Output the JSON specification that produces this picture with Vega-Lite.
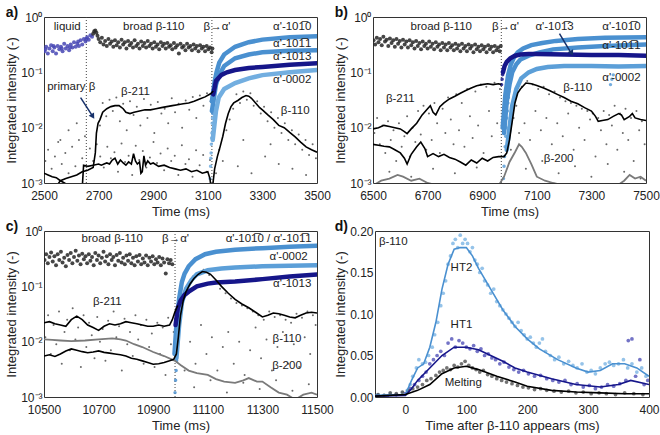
{
"$schema":"https://vega.github.io/schema/vega-lite/v6.json",
"config":{"font":"Liberation Sans","view":{"stroke":"#333","strokeWidth":1},
"axis":{"grid":false,"ticks":false,"domain":false,"labelFlush":false,"labelFontSize":12,"titleFontSize":13,"titleFontWeight":"normal","labelColor":"#222","titleColor":"#222","labelPadding":2,"titlePadding":2},
"axisX":{"labelPadding":7,"titlePadding":4},
"title":{"fontSize":14,"fontWeight":"bold","anchor":"start","frame":"bounds","dy":13,"color":"#111"},
"text":{"fontSize":11.5,"color":"#222"}},
"spacing":0,
"resolve":{"scale":{"color":"independent"}},
"vconcat":[
{"resolve":{"scale":{"color":"independent"}},"hconcat":[
{"width":273,"height":166,"title":{"text":"a)"},
"layer":[
{"data":{"name":"aD"},"mark":{"type":"point","filled":true,"size":4,"opacity":0.8,"clip":true},
"encoding":{"x":{"field":"x","type":"quantitative","scale":{"domain":[2500,3500],"nice":false},"axis":{"values":[2500,2700,2900,3100,3300,3500],"format":"d","title":"Time (ms)"}},
"y":{"field":"y","type":"quantitative","scale":{"type":"log","domain":[0.001,1],"nice":false},"axis":{"values":[0.001,0.01,0.1,1],"labelExpr":"'10' + (datum.value >= 0.99 ? '⁰' : datum.value >= 0.099 ? '⁻¹' : datum.value >= 0.0099 ? '⁻²' : '⁻³')","title":"Integrated intensity (-)"}},"color":{"value":"#444"}}},
{"data":{"values":[{"x":2655,"y":0.001,"y2":1},{"x":3115,"y":0.001,"y2":1}]},"mark":{"type":"rule","strokeDash":[1,2],"color":"#444"},"encoding":{"x":{"field":"x","type":"quantitative"},"y":{"field":"y","type":"quantitative","scale":{"type":"log"}},"y2":{"field":"y2"}}},
{"data":{"name":"aB"},"mark":{"type":"point","filled":true,"size":16,"opacity":0.85,"clip":true},
"encoding":{"x":{"field":"x","type":"quantitative"},"y":{"field":"y","type":"quantitative","scale":{"type":"log"}},"color":{"field":"s","type":"nominal","legend":null,"scale":{"domain":["liquid","broad","a1010","a1011","a1013","a0002"],"range":["#4646b4","#262626","#4a90d0","#4a90d0","#16168a","#72aee0"]}}}},
{"data":{"name":"aP"},"mark":{"type":"point","filled":true,"size":12,"opacity":0.85,"clip":true},
"encoding":{"x":{"field":"x","type":"quantitative"},"y":{"field":"y","type":"quantitative","scale":{"type":"log"}},"color":{"field":"s","type":"nominal","legend":null,"scale":{"domain":["liquid","broad","a1010","a1011","a1013","a0002"],"range":["#4646b4","#262626","#4a90d0","#4a90d0","#16168a","#72aee0"]}}}},
{"data":{"name":"aL"},"transform":[{"filter":"datum.s[0] == 'a'"}],"mark":{"type":"line","strokeWidth":4.5,"clip":true,"strokeCap":"round"},
"encoding":{"x":{"field":"x","type":"quantitative"},"y":{"field":"y","type":"quantitative","scale":{"type":"log"}},"color":{"field":"s","type":"nominal","legend":null,"scale":{"domain":["liquid","broad","a1010","a1011","a1013","a0002"],"range":["#4646b4","#262626","#4a90d0","#4a90d0","#16168a","#72aee0"]}},"order":{"field":"x"}}},
{"data":{"name":"aL"},"transform":[{"filter":"datum.s[0] == 'b'"}],"mark":{"type":"line","strokeWidth":1.6,"clip":true,"color":"#000"},
"encoding":{"x":{"field":"x","type":"quantitative"},"y":{"field":"y","type":"quantitative","scale":{"type":"log"}},"detail":{"field":"s"},"order":{"field":"x"}}},
{"data":{"values":[{"x":2634,"y":0.035,"x2":2675,"y2":0.017}]},"mark":{"type":"rule","color":"#16306a","strokeWidth":1.5},"encoding":{"x":{"field":"x","type":"quantitative"},"y":{"field":"y","type":"quantitative","scale":{"type":"log"}},"x2":{"field":"x2"},"y2":{"field":"y2"}}},
{"data":{"values":[{"x":2677,"y":0.0165}]},"mark":{"type":"point","shape":"triangle","filled":true,"size":40,"angle":148,"color":"#16306a","opacity":1},"encoding":{"x":{"field":"x","type":"quantitative"},"y":{"field":"y","type":"quantitative","scale":{"type":"log"}}}},
{"data":{"name":"aT"},"mark":{"type":"text"},"encoding":{"x":{"field":"x","type":"quantitative"},"y":{"field":"y","type":"quantitative","scale":{"type":"log"}},"text":{"field":"t"}}}
]},
{"width":273,"height":166,"title":{"text":"b)"},
"layer":[
{"data":{"name":"bD"},"mark":{"type":"point","filled":true,"size":4,"opacity":0.8,"clip":true},
"encoding":{"x":{"field":"x","type":"quantitative","scale":{"domain":[6500,7500],"nice":false},"axis":{"values":[6500,6700,6900,7100,7300,7500],"format":"d","title":"Time (ms)"}},
"y":{"field":"y","type":"quantitative","scale":{"type":"log","domain":[0.001,1],"nice":false},"axis":{"values":[0.001,0.01,0.1,1],"labelExpr":"'10' + (datum.value >= 0.99 ? '⁰' : datum.value >= 0.099 ? '⁻¹' : datum.value >= 0.0099 ? '⁻²' : '⁻³')","title":"Integrated intensity (-)"}},"color":{"value":"#444"}}},
{"data":{"values":[{"x":6970,"y":0.001,"y2":1}]},"mark":{"type":"rule","strokeDash":[1,2],"color":"#444"},"encoding":{"x":{"field":"x","type":"quantitative"},"y":{"field":"y","type":"quantitative","scale":{"type":"log"}},"y2":{"field":"y2"}}},
{"data":{"name":"bB"},"mark":{"type":"point","filled":true,"size":16,"opacity":0.85,"clip":true},
"encoding":{"x":{"field":"x","type":"quantitative"},"y":{"field":"y","type":"quantitative","scale":{"type":"log"}},"color":{"field":"s","type":"nominal","legend":null,"scale":{"domain":["broad","a1010","a1011","a1013","a0002"],"range":["#262626","#4a90d0","#4a90d0","#16168a","#5c9fd8"]}}}},
{"data":{"name":"bP"},"mark":{"type":"point","filled":true,"size":12,"opacity":0.85,"clip":true},
"encoding":{"x":{"field":"x","type":"quantitative"},"y":{"field":"y","type":"quantitative","scale":{"type":"log"}},"color":{"field":"s","type":"nominal","legend":null,"scale":{"domain":["broad","a1010","a1011","a1013","a0002"],"range":["#262626","#4a90d0","#4a90d0","#16168a","#5c9fd8"]}}}},
{"data":{"name":"bL"},"transform":[{"filter":"datum.s[0] == 'a'"}],"mark":{"type":"line","strokeWidth":4.5,"clip":true,"strokeCap":"round"},
"encoding":{"x":{"field":"x","type":"quantitative"},"y":{"field":"y","type":"quantitative","scale":{"type":"log"}},"color":{"field":"s","type":"nominal","legend":null,"scale":{"domain":["broad","a1010","a1011","a1013","a0002"],"range":["#262626","#4a90d0","#4a90d0","#16168a","#5c9fd8"]}},"order":{"field":"x"}}},
{"data":{"name":"bL"},"transform":[{"filter":"datum.s == 'b200'"}],"mark":{"type":"line","strokeWidth":1.8,"clip":true,"color":"#7a7a7a"},
"encoding":{"x":{"field":"x","type":"quantitative"},"y":{"field":"y","type":"quantitative","scale":{"type":"log"}},"order":{"field":"x"}}},
{"data":{"name":"bL"},"transform":[{"filter":"datum.s == 'b211' || datum.s == 'b110'"}],"mark":{"type":"line","strokeWidth":1.6,"clip":true,"color":"#000"},
"encoding":{"x":{"field":"x","type":"quantitative"},"y":{"field":"y","type":"quantitative","scale":{"type":"log"}},"detail":{"field":"s"},"order":{"field":"x"}}},
{"data":{"values":[{"x":7183,"y":0.5,"x2":7222,"y2":0.24}]},"mark":{"type":"rule","color":"#16306a","strokeWidth":1.5},"encoding":{"x":{"field":"x","type":"quantitative"},"y":{"field":"y","type":"quantitative","scale":{"type":"log"}},"x2":{"field":"x2"},"y2":{"field":"y2"}}},
{"data":{"values":[{"x":7226,"y":0.23}]},"mark":{"type":"point","shape":"triangle","filled":true,"size":40,"angle":152,"color":"#16306a","opacity":1},"encoding":{"x":{"field":"x","type":"quantitative"},"y":{"field":"y","type":"quantitative","scale":{"type":"log"}}}},
{"data":{"name":"bT"},"mark":{"type":"text"},"encoding":{"x":{"field":"x","type":"quantitative"},"y":{"field":"y","type":"quantitative","scale":{"type":"log"}},"text":{"field":"t"}}}
]}
],"spacing":3},
{"resolve":{"scale":{"color":"independent"}},"hconcat":[
{"width":273,"height":166,"title":{"text":"c)"},
"layer":[
{"data":{"name":"cD"},"mark":{"type":"point","filled":true,"size":4,"opacity":0.8,"clip":true},
"encoding":{"x":{"field":"x","type":"quantitative","scale":{"domain":[10500,11500],"nice":false},"axis":{"values":[10500,10700,10900,11100,11300,11500],"format":"d","title":"Time (ms)"}},
"y":{"field":"y","type":"quantitative","scale":{"type":"log","domain":[0.001,1],"nice":false},"axis":{"values":[0.001,0.01,0.1,1],"labelExpr":"'10' + (datum.value >= 0.99 ? '⁰' : datum.value >= 0.099 ? '⁻¹' : datum.value >= 0.0099 ? '⁻²' : '⁻³')","title":"Integrated intensity (-)"}},"color":{"value":"#444"}}},
{"data":{"values":[{"x":10980,"y":0.001,"y2":1}]},"mark":{"type":"rule","strokeDash":[1,2],"color":"#444"},"encoding":{"x":{"field":"x","type":"quantitative"},"y":{"field":"y","type":"quantitative","scale":{"type":"log"}},"y2":{"field":"y2"}}},
{"data":{"name":"cB"},"mark":{"type":"point","filled":true,"size":16,"opacity":0.85,"clip":true},
"encoding":{"x":{"field":"x","type":"quantitative"},"y":{"field":"y","type":"quantitative","scale":{"type":"log"}},"color":{"field":"s","type":"nominal","legend":null,"scale":{"domain":["broad","a1010","a1013","a0002"],"range":["#262626","#4a90d0","#16168a","#5c9fd8"]}}}},
{"data":{"name":"cP"},"mark":{"type":"point","filled":true,"size":12,"opacity":0.85,"clip":true},
"encoding":{"x":{"field":"x","type":"quantitative"},"y":{"field":"y","type":"quantitative","scale":{"type":"log"}},"color":{"field":"s","type":"nominal","legend":null,"scale":{"domain":["broad","a1010","a1013","a0002"],"range":["#262626","#4a90d0","#16168a","#5c9fd8"]}}}},
{"data":{"name":"cL"},"transform":[{"filter":"datum.s[0] == 'a'"}],"mark":{"type":"line","strokeWidth":4.5,"clip":true,"strokeCap":"round"},
"encoding":{"x":{"field":"x","type":"quantitative"},"y":{"field":"y","type":"quantitative","scale":{"type":"log"}},"color":{"field":"s","type":"nominal","legend":null,"scale":{"domain":["broad","a1010","a1013","a0002"],"range":["#262626","#4a90d0","#16168a","#5c9fd8"]}},"order":{"field":"x"}}},
{"data":{"name":"cL"},"transform":[{"filter":"datum.s == 'b200'"}],"mark":{"type":"line","strokeWidth":1.8,"clip":true,"color":"#7a7a7a"},
"encoding":{"x":{"field":"x","type":"quantitative"},"y":{"field":"y","type":"quantitative","scale":{"type":"log"}},"order":{"field":"x"}}},
{"data":{"name":"cL"},"transform":[{"filter":"datum.s == 'b211' || datum.s == 'b110'"}],"mark":{"type":"line","strokeWidth":1.6,"clip":true,"color":"#000"},
"encoding":{"x":{"field":"x","type":"quantitative"},"y":{"field":"y","type":"quantitative","scale":{"type":"log"}},"detail":{"field":"s"},"order":{"field":"x"}}},
{"data":{"name":"cT"},"mark":{"type":"text"},"encoding":{"x":{"field":"x","type":"quantitative"},"y":{"field":"y","type":"quantitative","scale":{"type":"log"}},"text":{"field":"t"}}}
]},
{"width":274,"height":166,"title":{"text":"d)"},
"layer":[
{"data":{"name":"dP"},"mark":{"type":"point","filled":true,"size":14,"opacity":0.8,"clip":true},
"encoding":{"x":{"field":"x","type":"quantitative","scale":{"domain":[-50,400],"nice":false},"axis":{"values":[0,100,200,300,400],"format":"d","title":"Time after β-110 appears (ms)"}},
"y":{"field":"y","type":"quantitative","scale":{"domain":[0,0.2],"nice":false},"axis":{"values":[0,0.05,0.1,0.15,0.2],"format":".2f","title":"Integrated intensity (-)"}},
"color":{"field":"s","type":"nominal","legend":null,"scale":{"domain":["HT2p","HT1p","Meltp","HT2","HT1","Melting"],"range":["#7ab4e4","#5050b8","#505050","#4a90d0","#16168a","#000000"]}}}},
{"data":{"name":"dL"},"mark":{"type":"line","strokeWidth":1.6,"clip":true},
"encoding":{"x":{"field":"x","type":"quantitative"},"y":{"field":"y","type":"quantitative"},"color":{"field":"s","type":"nominal","legend":null,"scale":{"domain":["HT2p","HT1p","Meltp","HT2","HT1","Melting"],"range":["#7ab4e4","#5050b8","#505050","#4a90d0","#16168a","#000000"]}},"order":{"field":"x"}}},
{"data":{"name":"dT"},"mark":{"type":"text"},"encoding":{"x":{"field":"x","type":"quantitative"},"y":{"field":"y","type":"quantitative"},"text":{"field":"t"}}}
]}
],"spacing":0}
],
"datasets":{
"aT":[{"t":"liquid","x":2585,"y":0.65},{"t":"broad β-110","x":2902,"y":0.65},{"t":"β→α'","x":3134,"y":0.65},{"t":"α'-101\u03050","x":3409,"y":0.65},{"t":"α'-101\u03051","x":3409,"y":0.32},{"t":"α'-1013","x":3409,"y":0.19},{"t":"α'-0002","x":3409,"y":0.073},{"t":"primary β","x":2600,"y":0.054},{"t":"β-211","x":2835,"y":0.045},{"t":"β-110","x":3420,"y":0.02}],
"bT":[{"t":"broad β-110","x":6750,"y":0.65},{"t":"β→α'","x":6985,"y":0.65},{"t":"α'-101\u03053","x":7165,"y":0.65},{"t":"α'-101\u03050","x":7410,"y":0.65},{"t":"α'-101\u03051","x":7410,"y":0.3},{"t":"α'-0002","x":7410,"y":0.078},{"t":"β-211","x":6600,"y":0.033},{"t":"β-110","x":7250,"y":0.052},{"t":"β-200","x":7180,"y":0.0027}],
"cT":[{"t":"broad β-110","x":10750,"y":0.71},{"t":"β→α'","x":10982,"y":0.71},{"t":"α'-101\u03050 / α'-101\u03051","x":11323,"y":0.71},{"t":"α'-0002","x":11396,"y":0.34},{"t":"α'-1013","x":11409,"y":0.11},{"t":"β-211","x":10732,"y":0.052},{"t":"β-110","x":11390,"y":0.011},{"t":"β-200","x":11390,"y":0.0036}],
"dT":[{"t":"β-110","x":-20,"y":0.1865},{"t":"HT2","x":92,"y":0.156},{"t":"HT1","x":92,"y":0.087},{"t":"Melting","x":95,"y":0.0165}],
"aB":[{"s":"liquid","x":2502,"y":0.24},{"s":"liquid","x":2508,"y":0.29},{"s":"liquid","x":2514,"y":0.22},{"s":"liquid","x":2520,"y":0.27},{"s":"liquid","x":2526,"y":0.31},{"s":"liquid","x":2532,"y":0.24},{"s":"liquid","x":2538,"y":0.28},{"s":"liquid","x":2544,"y":0.22},{"s":"liquid","x":2550,"y":0.3},{"s":"liquid","x":2556,"y":0.26},{"s":"liquid","x":2562,"y":0.29},{"s":"liquid","x":2568,"y":0.24},{"s":"liquid","x":2574,"y":0.33},{"s":"liquid","x":2580,"y":0.27},{"s":"liquid","x":2586,"y":0.3},{"s":"liquid","x":2592,"y":0.25},{"s":"liquid","x":2598,"y":0.32},{"s":"liquid","x":2604,"y":0.28},{"s":"liquid","x":2610,"y":0.35},{"s":"liquid","x":2616,"y":0.29},{"s":"liquid","x":2622,"y":0.33},{"s":"liquid","x":2628,"y":0.3},{"s":"liquid","x":2634,"y":0.38},{"s":"liquid","x":2640,"y":0.32},{"s":"liquid","x":2646,"y":0.4},{"s":"liquid","x":2652,"y":0.36},{"s":"liquid","x":2658,"y":0.43},{"s":"liquid","x":2664,"y":0.39},{"s":"liquid","x":2670,"y":0.47},{"s":"liquid","x":2676,"y":0.44},{"s":"liquid","x":2505,"y":0.26},{"s":"liquid","x":2535,"y":0.3},{"s":"liquid","x":2565,"y":0.27},{"s":"liquid","x":2595,"y":0.28},{"s":"liquid","x":2625,"y":0.36},{"s":"liquid","x":2655,"y":0.4},
{"s":"broad","x":2680,"y":0.5},{"s":"broad","x":2684,"y":0.55},{"s":"broad","x":2688,"y":0.57},{"s":"broad","x":2692,"y":0.52},{"s":"broad","x":2696,"y":0.46},{"s":"broad","x":2700,"y":0.4},{"s":"broad","x":2706,"y":0.35},{"s":"broad","x":2712,"y":0.42},{"s":"broad","x":2718,"y":0.32},{"s":"broad","x":2724,"y":0.37},{"s":"broad","x":2730,"y":0.3},{"s":"broad","x":2736,"y":0.4},{"s":"broad","x":2742,"y":0.33},{"s":"broad","x":2748,"y":0.36},{"s":"broad","x":2754,"y":0.29},{"s":"broad","x":2760,"y":0.38},{"s":"broad","x":2766,"y":0.31},{"s":"broad","x":2772,"y":0.35},{"s":"broad","x":2778,"y":0.28},{"s":"broad","x":2784,"y":0.39},{"s":"broad","x":2790,"y":0.32},{"s":"broad","x":2796,"y":0.35},{"s":"broad","x":2802,"y":0.27},{"s":"broad","x":2808,"y":0.37},{"s":"broad","x":2814,"y":0.31},{"s":"broad","x":2820,"y":0.34},{"s":"broad","x":2826,"y":0.28},{"s":"broad","x":2832,"y":0.38},{"s":"broad","x":2838,"y":0.3},{"s":"broad","x":2844,"y":0.33},{"s":"broad","x":2850,"y":0.27},{"s":"broad","x":2856,"y":0.36},{"s":"broad","x":2862,"y":0.3},{"s":"broad","x":2868,"y":0.34},{"s":"broad","x":2874,"y":0.28},{"s":"broad","x":2880,"y":0.37},{"s":"broad","x":2886,"y":0.3},{"s":"broad","x":2892,"y":0.33},{"s":"broad","x":2898,"y":0.27},{"s":"broad","x":2904,"y":0.35},{"s":"broad","x":2910,"y":0.29},{"s":"broad","x":2916,"y":0.32},{"s":"broad","x":2922,"y":0.26},{"s":"broad","x":2928,"y":0.35},{"s":"broad","x":2934,"y":0.3},{"s":"broad","x":2940,"y":0.33},{"s":"broad","x":2946,"y":0.27},{"s":"broad","x":2952,"y":0.34},{"s":"broad","x":2958,"y":0.29},{"s":"broad","x":2964,"y":0.31},{"s":"broad","x":2970,"y":0.26},{"s":"broad","x":2976,"y":0.34},{"s":"broad","x":2982,"y":0.28},{"s":"broad","x":2988,"y":0.31},{"s":"broad","x":2994,"y":0.22},{"s":"broad","x":3000,"y":0.33},{"s":"broad","x":3006,"y":0.28},{"s":"broad","x":3012,"y":0.3},{"s":"broad","x":3018,"y":0.25},{"s":"broad","x":3024,"y":0.33},{"s":"broad","x":3030,"y":0.28},{"s":"broad","x":3036,"y":0.3},{"s":"broad","x":3042,"y":0.25},{"s":"broad","x":3048,"y":0.32},{"s":"broad","x":3054,"y":0.27},{"s":"broad","x":3060,"y":0.3},{"s":"broad","x":3066,"y":0.24},{"s":"broad","x":3072,"y":0.31},{"s":"broad","x":3078,"y":0.27},{"s":"broad","x":3084,"y":0.29},{"s":"broad","x":3090,"y":0.24},{"s":"broad","x":3096,"y":0.3},{"s":"broad","x":3102,"y":0.26},{"s":"broad","x":3108,"y":0.28},{"s":"broad","x":3114,"y":0.23},{"s":"broad","x":3117,"y":0.27}],
"aP":[{"s":"a0002","x":3108,"y":0.0012},{"s":"a0002","x":3110,"y":0.002},{"s":"a0002","x":3111,"y":0.0028},{"s":"a0002","x":3112,"y":0.0035},{"s":"a0002","x":3113,"y":0.005},{"s":"a0002","x":3114,"y":0.0065},{"s":"a0002","x":3115,"y":0.008},{"s":"a0002","x":3116,"y":0.012},{"s":"a0002","x":3117,"y":0.015},{"s":"a1011","x":3118,"y":0.018},{"s":"a1011","x":3119,"y":0.022},{"s":"a1011","x":3120,"y":0.025},{"s":"a1011","x":3122,"y":0.03},{"s":"a1011","x":3124,"y":0.04},{"s":"a0002","x":3121,"y":0.01},{"s":"a0002","x":3125,"y":0.016},{"s":"a0002","x":3128,"y":0.022}],
"aL":[{"s":"a1010","x":3115,"y":0.03},{"s":"a1010","x":3125,"y":0.068},{"s":"a1010","x":3132,"y":0.1},{"s":"a1010","x":3142,"y":0.15},{"s":"a1010","x":3160,"y":0.21},{"s":"a1010","x":3200,"y":0.29},{"s":"a1010","x":3250,"y":0.35},{"s":"a1010","x":3300,"y":0.39},{"s":"a1010","x":3400,"y":0.43},{"s":"a1010","x":3500,"y":0.45},
{"s":"a1011","x":3115,"y":0.02},{"s":"a1011","x":3130,"y":0.06},{"s":"a1011","x":3142,"y":0.09},{"s":"a1011","x":3160,"y":0.13},{"s":"a1011","x":3200,"y":0.18},{"s":"a1011","x":3250,"y":0.21},{"s":"a1011","x":3300,"y":0.23},{"s":"a1011","x":3400,"y":0.245},{"s":"a1011","x":3500,"y":0.25},
{"s":"a0002","x":3118,"y":0.006},{"s":"a0002","x":3130,"y":0.02},{"s":"a0002","x":3140,"y":0.035},{"s":"a0002","x":3160,"y":0.05},{"s":"a0002","x":3200,"y":0.064},{"s":"a0002","x":3250,"y":0.078},{"s":"a0002","x":3300,"y":0.089},{"s":"a0002","x":3400,"y":0.1},{"s":"a0002","x":3500,"y":0.11},
{"s":"a1013","x":3120,"y":0.04},{"s":"a1013","x":3130,"y":0.07},{"s":"a1013","x":3150,"y":0.09},{"s":"a1013","x":3170,"y":0.1},{"s":"a1013","x":3200,"y":0.11},{"s":"a1013","x":3250,"y":0.12},{"s":"a1013","x":3300,"y":0.125},{"s":"a1013","x":3400,"y":0.137},{"s":"a1013","x":3500,"y":0.146},
{"s":"b110","x":2500,"y":0.0015},{"s":"b110","x":2515,"y":0.0014},{"s":"b110","x":2530,"y":0.0013},{"s":"b110","x":2545,"y":0.00125},{"s":"b110","x":2560,"y":0.0011},{"s":"b110","x":2575,"y":0.001},{"s":"b110","x":2590,"y":0.0009},{"s":"b110","x":2615,"y":0.0008},{"s":"b110","x":2640,"y":0.0008},{"s":"b110","x":2645,"y":0.0021},{"s":"b110","x":2660,"y":0.002},{"s":"b110","x":2680,"y":0.0021},{"s":"b110","x":2700,"y":0.0022},{"s":"b110","x":2710,"y":0.0021},{"s":"b110","x":2720,"y":0.0022},{"s":"b110","x":2730,"y":0.0023},{"s":"b110","x":2740,"y":0.0022},{"s":"b110","x":2750,"y":0.0026},{"s":"b110","x":2760,"y":0.0028},{"s":"b110","x":2770,"y":0.0022},{"s":"b110","x":2780,"y":0.0026},{"s":"b110","x":2790,"y":0.0023},{"s":"b110","x":2800,"y":0.0021},{"s":"b110","x":2810,"y":0.0024},{"s":"b110","x":2820,"y":0.0022},{"s":"b110","x":2828,"y":0.0034},{"s":"b110","x":2835,"y":0.0025},{"s":"b110","x":2842,"y":0.0022},{"s":"b110","x":2850,"y":0.0024},{"s":"b110","x":2855,"y":0.0015},{"s":"b110","x":2860,"y":0.0016},{"s":"b110","x":2866,"y":0.0031},{"s":"b110","x":2872,"y":0.0021},{"s":"b110","x":2880,"y":0.0025},{"s":"b110","x":2890,"y":0.0022},{"s":"b110","x":2900,"y":0.0023},{"s":"b110","x":2920,"y":0.002},{"s":"b110","x":2940,"y":0.0021},{"s":"b110","x":2960,"y":0.0019},{"s":"b110","x":2980,"y":0.0018},{"s":"b110","x":3000,"y":0.0017},{"s":"b110","x":3020,"y":0.0018},{"s":"b110","x":3040,"y":0.0016},{"s":"b110","x":3060,"y":0.0017},{"s":"b110","x":3080,"y":0.0015},{"s":"b110","x":3100,"y":0.0016},{"s":"b110","x":3108,"y":0.0012},{"s":"b110","x":3112,"y":0.0008},{"s":"b110","x":3118,"y":0.0009},{"s":"b110","x":3125,"y":0.0018},{"s":"b110","x":3135,"y":0.003},{"s":"b110","x":3145,"y":0.0045},{"s":"b110","x":3155,"y":0.007},{"s":"b110","x":3165,"y":0.012},{"s":"b110","x":3175,"y":0.018},{"s":"b110","x":3185,"y":0.024},{"s":"b110","x":3195,"y":0.028},{"s":"b110","x":3210,"y":0.031},{"s":"b110","x":3225,"y":0.035},{"s":"b110","x":3240,"y":0.038},{"s":"b110","x":3250,"y":0.037},{"s":"b110","x":3260,"y":0.034},{"s":"b110","x":3275,"y":0.028},{"s":"b110","x":3290,"y":0.023},{"s":"b110","x":3300,"y":0.021},{"s":"b110","x":3320,"y":0.017},{"s":"b110","x":3340,"y":0.014},{"s":"b110","x":3360,"y":0.011},{"s":"b110","x":3380,"y":0.01},{"s":"b110","x":3400,"y":0.0082},{"s":"b110","x":3420,"y":0.0068},{"s":"b110","x":3440,"y":0.0055},{"s":"b110","x":3460,"y":0.0045},{"s":"b110","x":3480,"y":0.004},{"s":"b110","x":3500,"y":0.0036},
{"s":"b211","x":2540,"y":0.0008},{"s":"b211","x":2560,"y":0.0011},{"s":"b211","x":2580,"y":0.0012},{"s":"b211","x":2600,"y":0.0013},{"s":"b211","x":2620,"y":0.0014},{"s":"b211","x":2640,"y":0.0016},{"s":"b211","x":2660,"y":0.0017},{"s":"b211","x":2680,"y":0.0019},{"s":"b211","x":2688,"y":0.0035},{"s":"b211","x":2692,"y":0.008},{"s":"b211","x":2698,"y":0.012},{"s":"b211","x":2705,"y":0.014},{"s":"b211","x":2715,"y":0.019},{"s":"b211","x":2730,"y":0.022},{"s":"b211","x":2745,"y":0.024},{"s":"b211","x":2760,"y":0.025},{"s":"b211","x":2775,"y":0.025},{"s":"b211","x":2790,"y":0.022},{"s":"b211","x":2800,"y":0.019},{"s":"b211","x":2815,"y":0.018},{"s":"b211","x":2830,"y":0.019},{"s":"b211","x":2850,"y":0.02},{"s":"b211","x":2870,"y":0.021},{"s":"b211","x":2890,"y":0.021},{"s":"b211","x":2910,"y":0.022},{"s":"b211","x":2930,"y":0.023},{"s":"b211","x":2950,"y":0.024},{"s":"b211","x":2970,"y":0.025},{"s":"b211","x":2990,"y":0.026},{"s":"b211","x":3010,"y":0.027},{"s":"b211","x":3030,"y":0.028},{"s":"b211","x":3050,"y":0.03},{"s":"b211","x":3070,"y":0.033},{"s":"b211","x":3090,"y":0.036},{"s":"b211","x":3110,"y":0.041},{"s":"b211","x":3120,"y":0.046}],
"aD":[{"x":2505,"y":0.0025},{"x":2515,"y":0.004},{"x":2528,"y":0.0018},{"x":2540,"y":0.003},{"x":2552,"y":0.0055},{"x":2565,"y":0.0022},{"x":2578,"y":0.0035},{"x":2590,"y":0.0015},{"x":2603,"y":0.0045},{"x":2615,"y":0.002},{"x":2628,"y":0.006},{"x":2640,"y":0.0028},{"x":2655,"y":0.0017},{"x":2668,"y":0.0042},{"x":2680,"y":0.0025},{"x":2693,"y":0.005},{"x":2706,"y":0.003},{"x":2719,"y":0.0019},{"x":2732,"y":0.0045},{"x":2745,"y":0.0028},{"x":2758,"y":0.0036},{"x":2771,"y":0.0016},{"x":2784,"y":0.0052},{"x":2797,"y":0.0024},{"x":2810,"y":0.0031},{"x":2823,"y":0.0014},{"x":2836,"y":0.0047},{"x":2849,"y":0.0026},{"x":2862,"y":0.0038},{"x":2875,"y":0.0019},{"x":2888,"y":0.0029},{"x":2901,"y":0.0055},{"x":2914,"y":0.0023},{"x":2927,"y":0.0034},{"x":2940,"y":0.0017},{"x":2953,"y":0.0042},{"x":2966,"y":0.0025},{"x":2979,"y":0.0031},{"x":2992,"y":0.0014},{"x":3005,"y":0.0048},{"x":3018,"y":0.0022},{"x":3031,"y":0.0027},{"x":3044,"y":0.0013},{"x":3057,"y":0.0039},{"x":3070,"y":0.0021},{"x":3083,"y":0.0032},{"x":3096,"y":0.0016},{"x":3108,"y":0.0026},
{"x":2560,"y":0.006},{"x":2590,"y":0.009},{"x":2620,"y":0.012},{"x":2650,"y":0.007},{"x":2705,"y":0.011},{"x":2715,"y":0.028},{"x":2728,"y":0.016},{"x":2740,"y":0.032},{"x":2752,"y":0.02},{"x":2765,"y":0.035},{"x":2778,"y":0.013},{"x":2790,"y":0.027},{"x":2803,"y":0.009},{"x":2815,"y":0.03},{"x":2828,"y":0.017},{"x":2840,"y":0.024},{"x":2853,"y":0.011},{"x":2866,"y":0.033},{"x":2879,"y":0.015},{"x":2891,"y":0.026},{"x":2904,"y":0.008},{"x":2917,"y":0.029},{"x":2930,"y":0.018},{"x":2942,"y":0.022},{"x":2955,"y":0.012},{"x":2968,"y":0.034},{"x":2980,"y":0.019},{"x":2993,"y":0.027},{"x":3006,"y":0.01},{"x":3019,"y":0.031},{"x":3032,"y":0.021},{"x":3045,"y":0.036},{"x":3058,"y":0.015},{"x":3071,"y":0.038},{"x":3084,"y":0.025},{"x":3097,"y":0.042},{"x":3110,"y":0.03},
{"x":3130,"y":0.0015},{"x":3142,"y":0.004},{"x":3155,"y":0.0025},{"x":3168,"y":0.009},{"x":3180,"y":0.014},{"x":3193,"y":0.022},{"x":3205,"y":0.04},{"x":3218,"y":0.028},{"x":3230,"y":0.045},{"x":3243,"y":0.032},{"x":3256,"y":0.042},{"x":3268,"y":0.025},{"x":3281,"y":0.03},{"x":3294,"y":0.018},{"x":3306,"y":0.024},{"x":3319,"y":0.013},{"x":3332,"y":0.019},{"x":3344,"y":0.01},{"x":3357,"y":0.015},{"x":3370,"y":0.008},{"x":3382,"y":0.012},{"x":3395,"y":0.006},{"x":3408,"y":0.009},{"x":3420,"y":0.005},{"x":3433,"y":0.0075},{"x":3446,"y":0.004},{"x":3458,"y":0.006},{"x":3471,"y":0.0032},{"x":3484,"y":0.005},{"x":3496,"y":0.0028},{"x":3210,"y":0.002},{"x":3260,"y":0.0015},{"x":3310,"y":0.003},{"x":3360,"y":0.0022},{"x":3410,"y":0.0018},{"x":3460,"y":0.0014},{"x":3230,"y":0.006},{"x":3330,"y":0.005}],
"bB":[{"s":"broad","x":6502,"y":0.38},{"s":"broad","x":6508,"y":0.32},{"s":"broad","x":6514,"y":0.42},{"s":"broad","x":6520,"y":0.35},{"s":"broad","x":6526,"y":0.4},{"s":"broad","x":6532,"y":0.31},{"s":"broad","x":6538,"y":0.44},{"s":"broad","x":6544,"y":0.36},{"s":"broad","x":6550,"y":0.39},{"s":"broad","x":6556,"y":0.3},{"s":"broad","x":6562,"y":0.41},{"s":"broad","x":6568,"y":0.34},{"s":"broad","x":6574,"y":0.38},{"s":"broad","x":6580,"y":0.29},{"s":"broad","x":6586,"y":0.4},{"s":"broad","x":6592,"y":0.33},{"s":"broad","x":6598,"y":0.37},{"s":"broad","x":6604,"y":0.28},{"s":"broad","x":6610,"y":0.39},{"s":"broad","x":6616,"y":0.32},{"s":"broad","x":6622,"y":0.36},{"s":"broad","x":6628,"y":0.28},{"s":"broad","x":6634,"y":0.38},{"s":"broad","x":6640,"y":0.31},{"s":"broad","x":6646,"y":0.35},{"s":"broad","x":6652,"y":0.27},{"s":"broad","x":6658,"y":0.37},{"s":"broad","x":6664,"y":0.3},{"s":"broad","x":6670,"y":0.34},{"s":"broad","x":6676,"y":0.26},{"s":"broad","x":6682,"y":0.36},{"s":"broad","x":6688,"y":0.3},{"s":"broad","x":6694,"y":0.33},{"s":"broad","x":6700,"y":0.27},{"s":"broad","x":6706,"y":0.36},{"s":"broad","x":6712,"y":0.29},{"s":"broad","x":6718,"y":0.33},{"s":"broad","x":6724,"y":0.26},{"s":"broad","x":6730,"y":0.35},{"s":"broad","x":6736,"y":0.29},{"s":"broad","x":6742,"y":0.32},{"s":"broad","x":6748,"y":0.25},{"s":"broad","x":6754,"y":0.34},{"s":"broad","x":6760,"y":0.28},{"s":"broad","x":6766,"y":0.32},{"s":"broad","x":6772,"y":0.25},{"s":"broad","x":6778,"y":0.34},{"s":"broad","x":6784,"y":0.28},{"s":"broad","x":6790,"y":0.31},{"s":"broad","x":6796,"y":0.25},{"s":"broad","x":6802,"y":0.33},{"s":"broad","x":6808,"y":0.27},{"s":"broad","x":6814,"y":0.31},{"s":"broad","x":6820,"y":0.24},{"s":"broad","x":6826,"y":0.33},{"s":"broad","x":6832,"y":0.27},{"s":"broad","x":6838,"y":0.3},{"s":"broad","x":6844,"y":0.24},{"s":"broad","x":6850,"y":0.32},{"s":"broad","x":6856,"y":0.27},{"s":"broad","x":6862,"y":0.3},{"s":"broad","x":6868,"y":0.23},{"s":"broad","x":6874,"y":0.32},{"s":"broad","x":6880,"y":0.26},{"s":"broad","x":6886,"y":0.29},{"s":"broad","x":6892,"y":0.24},{"s":"broad","x":6898,"y":0.31},{"s":"broad","x":6904,"y":0.26},{"s":"broad","x":6910,"y":0.29},{"s":"broad","x":6916,"y":0.23},{"s":"broad","x":6922,"y":0.31},{"s":"broad","x":6928,"y":0.26},{"s":"broad","x":6934,"y":0.29},{"s":"broad","x":6940,"y":0.23},{"s":"broad","x":6946,"y":0.3},{"s":"broad","x":6952,"y":0.25},{"s":"broad","x":6958,"y":0.28},{"s":"broad","x":6964,"y":0.24},{"s":"broad","x":6968,"y":0.3}],
"bP":[{"s":"a1013","x":6971,"y":0.06},{"s":"a1013","x":6973,"y":0.075},{"s":"a1013","x":6975,"y":0.09},{"s":"a0002","x":6978,"y":0.0012},{"s":"a0002","x":6980,"y":0.002},{"s":"a0002","x":6982,"y":0.003},{"s":"a0002","x":6984,"y":0.0045},{"s":"a0002","x":6986,"y":0.007},{"s":"a0002","x":6988,"y":0.01},{"s":"a0002","x":6990,"y":0.015},{"s":"a0002","x":6992,"y":0.02},{"s":"a1011","x":6994,"y":0.028},{"s":"a1011","x":6996,"y":0.035},{"s":"a1011","x":6998,"y":0.045},{"s":"a0002","x":7370,"y":0.06},{"s":"a0002","x":7375,"y":0.075},{"s":"a0002","x":7380,"y":0.09}],
"bL":[{"s":"a1010","x":6975,"y":0.01},{"s":"a1010","x":6985,"y":0.04},{"s":"a1010","x":6995,"y":0.09},{"s":"a1010","x":7005,"y":0.14},{"s":"a1010","x":7015,"y":0.18},{"s":"a1010","x":7030,"y":0.23},{"s":"a1010","x":7050,"y":0.27},{"s":"a1010","x":7080,"y":0.31},{"s":"a1010","x":7120,"y":0.34},{"s":"a1010","x":7170,"y":0.37},{"s":"a1010","x":7250,"y":0.4},{"s":"a1010","x":7350,"y":0.42},{"s":"a1010","x":7500,"y":0.43},
{"s":"a1011","x":6980,"y":0.008},{"s":"a1011","x":6990,"y":0.03},{"s":"a1011","x":7000,"y":0.06},{"s":"a1011","x":7010,"y":0.1},{"s":"a1011","x":7025,"y":0.14},{"s":"a1011","x":7040,"y":0.17},{"s":"a1011","x":7070,"y":0.2},{"s":"a1011","x":7110,"y":0.23},{"s":"a1011","x":7160,"y":0.26},{"s":"a1011","x":7250,"y":0.28},{"s":"a1011","x":7350,"y":0.3},{"s":"a1011","x":7500,"y":0.32},
{"s":"a0002","x":6990,"y":0.004},{"s":"a0002","x":7000,"y":0.01},{"s":"a0002","x":7010,"y":0.025},{"s":"a0002","x":7025,"y":0.05},{"s":"a0002","x":7043,"y":0.078},{"s":"a0002","x":7070,"y":0.1},{"s":"a0002","x":7100,"y":0.115},{"s":"a0002","x":7140,"y":0.125},{"s":"a0002","x":7200,"y":0.13},{"s":"a0002","x":7300,"y":0.13},{"s":"a0002","x":7400,"y":0.128},{"s":"a0002","x":7500,"y":0.13},
{"s":"a1013","x":6976,"y":0.1},{"s":"a1013","x":6982,"y":0.13},{"s":"a1013","x":6990,"y":0.155},{"s":"a1013","x":7003,"y":0.18},{"s":"a1013","x":7020,"y":0.2},{"s":"a1013","x":7040,"y":0.21},{"s":"a1013","x":7070,"y":0.215},{"s":"a1013","x":7100,"y":0.215},{"s":"a1013","x":7200,"y":0.21},{"s":"a1013","x":7300,"y":0.205},{"s":"a1013","x":7400,"y":0.205},{"s":"a1013","x":7500,"y":0.2},
{"s":"b211","x":6500,"y":0.0095},{"s":"b211","x":6520,"y":0.01},{"s":"b211","x":6540,"y":0.011},{"s":"b211","x":6560,"y":0.0105},{"s":"b211","x":6580,"y":0.01},{"s":"b211","x":6600,"y":0.0095},{"s":"b211","x":6615,"y":0.0085},{"s":"b211","x":6625,"y":0.0078},{"s":"b211","x":6640,"y":0.0095},{"s":"b211","x":6660,"y":0.012},{"s":"b211","x":6680,"y":0.017},{"s":"b211","x":6700,"y":0.022},{"s":"b211","x":6710,"y":0.025},{"s":"b211","x":6720,"y":0.019},{"s":"b211","x":6730,"y":0.017},{"s":"b211","x":6745,"y":0.024},{"s":"b211","x":6760,"y":0.028},{"s":"b211","x":6780,"y":0.033},{"s":"b211","x":6800,"y":0.037},{"s":"b211","x":6820,"y":0.042},{"s":"b211","x":6840,"y":0.047},{"s":"b211","x":6860,"y":0.052},{"s":"b211","x":6880,"y":0.057},{"s":"b211","x":6900,"y":0.06},{"s":"b211","x":6920,"y":0.062},{"s":"b211","x":6940,"y":0.06},{"s":"b211","x":6960,"y":0.062},{"s":"b211","x":6970,"y":0.06},
{"s":"b110","x":6500,"y":0.005},{"s":"b110","x":6520,"y":0.0048},{"s":"b110","x":6540,"y":0.0046},{"s":"b110","x":6560,"y":0.0045},{"s":"b110","x":6580,"y":0.004},{"s":"b110","x":6600,"y":0.0035},{"s":"b110","x":6615,"y":0.0028},{"s":"b110","x":6625,"y":0.0022},{"s":"b110","x":6640,"y":0.0033},{"s":"b110","x":6660,"y":0.0045},{"s":"b110","x":6675,"y":0.0055},{"s":"b110","x":6690,"y":0.0042},{"s":"b110","x":6700,"y":0.003},{"s":"b110","x":6720,"y":0.0034},{"s":"b110","x":6740,"y":0.003},{"s":"b110","x":6760,"y":0.0033},{"s":"b110","x":6780,"y":0.0029},{"s":"b110","x":6800,"y":0.0027},{"s":"b110","x":6820,"y":0.0024},{"s":"b110","x":6840,"y":0.0021},{"s":"b110","x":6860,"y":0.0026},{"s":"b110","x":6880,"y":0.0023},{"s":"b110","x":6900,"y":0.0028},{"s":"b110","x":6920,"y":0.0025},{"s":"b110","x":6940,"y":0.0029},{"s":"b110","x":6960,"y":0.003},{"s":"b110","x":6980,"y":0.003},{"s":"b110","x":6990,"y":0.0035},{"s":"b110","x":7000,"y":0.006},{"s":"b110","x":7010,"y":0.013},{"s":"b110","x":7020,"y":0.028},{"s":"b110","x":7030,"y":0.042},{"s":"b110","x":7040,"y":0.05},{"s":"b110","x":7060,"y":0.064},{"s":"b110","x":7080,"y":0.062},{"s":"b110","x":7100,"y":0.058},{"s":"b110","x":7125,"y":0.052},{"s":"b110","x":7150,"y":0.046},{"s":"b110","x":7175,"y":0.04},{"s":"b110","x":7200,"y":0.035},{"s":"b110","x":7225,"y":0.03},{"s":"b110","x":7250,"y":0.027},{"s":"b110","x":7275,"y":0.023},{"s":"b110","x":7300,"y":0.02},{"s":"b110","x":7315,"y":0.016},{"s":"b110","x":7325,"y":0.013},{"s":"b110","x":7340,"y":0.0135},{"s":"b110","x":7360,"y":0.014},{"s":"b110","x":7380,"y":0.016},{"s":"b110","x":7400,"y":0.018},{"s":"b110","x":7410,"y":0.017},{"s":"b110","x":7420,"y":0.014},{"s":"b110","x":7440,"y":0.016},{"s":"b110","x":7450,"y":0.018},{"s":"b110","x":7460,"y":0.015},{"s":"b110","x":7480,"y":0.014},{"s":"b110","x":7500,"y":0.0135},
{"s":"b200","x":6500,"y":0.0009},{"s":"b200","x":6530,"y":0.0011},{"s":"b200","x":6560,"y":0.0012},{"s":"b200","x":6590,"y":0.0014},{"s":"b200","x":6610,"y":0.0013},{"s":"b200","x":6640,"y":0.0011},{"s":"b200","x":6670,"y":0.0012},{"s":"b200","x":6700,"y":0.001},{"s":"b200","x":6740,"y":0.0009},{"s":"b200","x":6800,"y":0.0008},{"s":"b200","x":6900,"y":0.0008},{"s":"b200","x":6960,"y":0.0009},{"s":"b200","x":6980,"y":0.0013},{"s":"b200","x":7000,"y":0.0024},{"s":"b200","x":7020,"y":0.0036},{"s":"b200","x":7035,"y":0.005},{"s":"b200","x":7045,"y":0.0045},{"s":"b200","x":7060,"y":0.0035},{"s":"b200","x":7080,"y":0.0022},{"s":"b200","x":7100,"y":0.0013},{"s":"b200","x":7130,"y":0.0011},{"s":"b200","x":7160,"y":0.001},{"s":"b200","x":7200,"y":0.0009},{"s":"b200","x":7300,"y":0.0009},{"s":"b200","x":7380,"y":0.0008},{"s":"b200","x":7420,"y":0.0011},{"s":"b200","x":7440,"y":0.0014},{"s":"b200","x":7460,"y":0.0012},{"s":"b200","x":7480,"y":0.0013},{"s":"b200","x":7500,"y":0.0011}],
"bD":[{"x":6505,"y":0.008},{"x":6515,"y":0.015},{"x":6525,"y":0.005},{"x":6535,"y":0.011},{"x":6545,"y":0.0035},{"x":6555,"y":0.013},{"x":6565,"y":0.006},{"x":6575,"y":0.009},{"x":6585,"y":0.0025},{"x":6595,"y":0.012},{"x":6605,"y":0.0045},{"x":6615,"y":0.007},{"x":6625,"y":0.016},{"x":6635,"y":0.003},{"x":6645,"y":0.01},{"x":6655,"y":0.0055},{"x":6665,"y":0.02},{"x":6675,"y":0.0075},{"x":6685,"y":0.025},{"x":6695,"y":0.004},{"x":6705,"y":0.018},{"x":6715,"y":0.006},{"x":6725,"y":0.028},{"x":6735,"y":0.012},{"x":6745,"y":0.0035},{"x":6755,"y":0.022},{"x":6765,"y":0.008},{"x":6775,"y":0.035},{"x":6785,"y":0.014},{"x":6795,"y":0.005},{"x":6805,"y":0.04},{"x":6815,"y":0.009},{"x":6825,"y":0.028},{"x":6835,"y":0.0045},{"x":6845,"y":0.05},{"x":6855,"y":0.016},{"x":6865,"y":0.0065},{"x":6875,"y":0.045},{"x":6885,"y":0.011},{"x":6895,"y":0.06},{"x":6905,"y":0.0035},{"x":6915,"y":0.055},{"x":6925,"y":0.02},{"x":6935,"y":0.007},{"x":6945,"y":0.065},{"x":6955,"y":0.012},{"x":6965,"y":0.05},
{"x":7005,"y":0.004},{"x":7015,"y":0.015},{"x":7025,"y":0.025},{"x":7035,"y":0.008},{"x":7045,"y":0.055},{"x":7055,"y":0.012},{"x":7065,"y":0.07},{"x":7075,"y":0.006},{"x":7085,"y":0.06},{"x":7095,"y":0.02},{"x":7105,"y":0.05},{"x":7115,"y":0.009},{"x":7125,"y":0.055},{"x":7135,"y":0.015},{"x":7145,"y":0.04},{"x":7155,"y":0.005},{"x":7165,"y":0.045},{"x":7175,"y":0.012},{"x":7185,"y":0.035},{"x":7195,"y":0.007},{"x":7205,"y":0.03},{"x":7215,"y":0.018},{"x":7225,"y":0.028},{"x":7235,"y":0.004},{"x":7245,"y":0.025},{"x":7255,"y":0.01},{"x":7265,"y":0.022},{"x":7275,"y":0.006},{"x":7285,"y":0.02},{"x":7295,"y":0.014},{"x":7305,"y":0.018},{"x":7315,"y":0.003},{"x":7325,"y":0.015},{"x":7335,"y":0.009},{"x":7345,"y":0.02},{"x":7355,"y":0.005},{"x":7365,"y":0.017},{"x":7375,"y":0.011},{"x":7385,"y":0.025},{"x":7395,"y":0.004},{"x":7405,"y":0.018},{"x":7415,"y":0.008},{"x":7425,"y":0.022},{"x":7435,"y":0.006},{"x":7445,"y":0.015},{"x":7455,"y":0.0025},{"x":7465,"y":0.02},{"x":7475,"y":0.009},{"x":7485,"y":0.013},{"x":7495,"y":0.005},{"x":7060,"y":0.0018},{"x":7120,"y":0.0025},{"x":7180,"y":0.0015},{"x":7240,"y":0.002},{"x":7300,"y":0.0013},{"x":7360,"y":0.0022},{"x":7420,"y":0.0016},{"x":7480,"y":0.0012},{"x":6560,"y":0.0016},{"x":6640,"y":0.0013},{"x":6720,"y":0.0018},{"x":6800,"y":0.0015},{"x":6880,"y":0.0019}],
"cB":[{"s":"broad","x":10502,"y":0.3},{"s":"broad","x":10508,"y":0.38},{"s":"broad","x":10514,"y":0.26},{"s":"broad","x":10520,"y":0.34},{"s":"broad","x":10526,"y":0.41},{"s":"broad","x":10532,"y":0.28},{"s":"broad","x":10538,"y":0.35},{"s":"broad","x":10544,"y":0.24},{"s":"broad","x":10550,"y":0.38},{"s":"broad","x":10556,"y":0.3},{"s":"broad","x":10562,"y":0.42},{"s":"broad","x":10568,"y":0.27},{"s":"broad","x":10574,"y":0.33},{"s":"broad","x":10580,"y":0.23},{"s":"broad","x":10586,"y":0.37},{"s":"broad","x":10592,"y":0.3},{"s":"broad","x":10598,"y":0.4},{"s":"broad","x":10604,"y":0.26},{"s":"broad","x":10610,"y":0.34},{"s":"broad","x":10616,"y":0.44},{"s":"broad","x":10622,"y":0.29},{"s":"broad","x":10628,"y":0.36},{"s":"broad","x":10634,"y":0.25},{"s":"broad","x":10640,"y":0.39},{"s":"broad","x":10646,"y":0.31},{"s":"broad","x":10652,"y":0.35},{"s":"broad","x":10658,"y":0.26},{"s":"broad","x":10664,"y":0.38},{"s":"broad","x":10670,"y":0.29},{"s":"broad","x":10676,"y":0.34},{"s":"broad","x":10682,"y":0.24},{"s":"broad","x":10688,"y":0.4},{"s":"broad","x":10694,"y":0.3},{"s":"broad","x":10700,"y":0.36},{"s":"broad","x":10706,"y":0.26},{"s":"broad","x":10712,"y":0.33},{"s":"broad","x":10718,"y":0.42},{"s":"broad","x":10724,"y":0.28},{"s":"broad","x":10730,"y":0.35},{"s":"broad","x":10736,"y":0.25},{"s":"broad","x":10742,"y":0.38},{"s":"broad","x":10748,"y":0.3},{"s":"broad","x":10754,"y":0.34},{"s":"broad","x":10760,"y":0.24},{"s":"broad","x":10766,"y":0.37},{"s":"broad","x":10772,"y":0.29},{"s":"broad","x":10778,"y":0.4},{"s":"broad","x":10784,"y":0.27},{"s":"broad","x":10790,"y":0.33},{"s":"broad","x":10796,"y":0.25},{"s":"broad","x":10802,"y":0.36},{"s":"broad","x":10808,"y":0.29},{"s":"broad","x":10814,"y":0.38},{"s":"broad","x":10820,"y":0.26},{"s":"broad","x":10826,"y":0.33},{"s":"broad","x":10832,"y":0.24},{"s":"broad","x":10838,"y":0.35},{"s":"broad","x":10844,"y":0.28},{"s":"broad","x":10850,"y":0.37},{"s":"broad","x":10856,"y":0.25},{"s":"broad","x":10862,"y":0.32},{"s":"broad","x":10868,"y":0.27},{"s":"broad","x":10874,"y":0.36},{"s":"broad","x":10880,"y":0.24},{"s":"broad","x":10886,"y":0.33},{"s":"broad","x":10892,"y":0.28},{"s":"broad","x":10898,"y":0.35},{"s":"broad","x":10904,"y":0.25},{"s":"broad","x":10910,"y":0.31},{"s":"broad","x":10916,"y":0.27},{"s":"broad","x":10922,"y":0.34},{"s":"broad","x":10928,"y":0.24},{"s":"broad","x":10934,"y":0.32},{"s":"broad","x":10940,"y":0.27},{"s":"broad","x":10946,"y":0.17},{"s":"broad","x":10952,"y":0.31},{"s":"broad","x":10958,"y":0.26},{"s":"broad","x":10964,"y":0.3},{"s":"broad","x":10970,"y":0.25}],
"cP":[{"s":"a1010","x":10980,"y":0.0012},{"s":"a1010","x":10982,"y":0.002},{"s":"a1010","x":10984,"y":0.003},{"s":"a1010","x":10986,"y":0.0045},{"s":"a1010","x":10988,"y":0.007},{"s":"a1010","x":10990,"y":0.01},{"s":"a1010","x":10992,"y":0.015},{"s":"a1010","x":10994,"y":0.022},{"s":"a1010","x":10996,"y":0.03},{"s":"a1013","x":10985,"y":0.025},{"s":"a1013","x":10988,"y":0.035}],
"cL":[{"s":"a1010","x":10978,"y":0.006},{"s":"a1010","x":10985,"y":0.02},{"s":"a1010","x":10995,"y":0.06},{"s":"a1010","x":11005,"y":0.12},{"s":"a1010","x":11015,"y":0.17},{"s":"a1010","x":11030,"y":0.23},{"s":"a1010","x":11055,"y":0.31},{"s":"a1010","x":11090,"y":0.38},{"s":"a1010","x":11130,"y":0.42},{"s":"a1010","x":11200,"y":0.46},{"s":"a1010","x":11300,"y":0.49},{"s":"a1010","x":11400,"y":0.52},{"s":"a1010","x":11500,"y":0.54},
{"s":"a0002","x":10985,"y":0.005},{"s":"a0002","x":10995,"y":0.02},{"s":"a0002","x":11005,"y":0.05},{"s":"a0002","x":11020,"y":0.09},{"s":"a0002","x":11040,"y":0.13},{"s":"a0002","x":11060,"y":0.165},{"s":"a0002","x":11100,"y":0.195},{"s":"a0002","x":11150,"y":0.21},{"s":"a0002","x":11200,"y":0.22},{"s":"a0002","x":11300,"y":0.23},{"s":"a0002","x":11400,"y":0.235},{"s":"a0002","x":11500,"y":0.24},
{"s":"a1013","x":10982,"y":0.02},{"s":"a1013","x":10990,"y":0.04},{"s":"a1013","x":11000,"y":0.055},{"s":"a1013","x":11015,"y":0.07},{"s":"a1013","x":11030,"y":0.08},{"s":"a1013","x":11060,"y":0.1},{"s":"a1013","x":11100,"y":0.112},{"s":"a1013","x":11130,"y":0.117},{"s":"a1013","x":11200,"y":0.122},{"s":"a1013","x":11300,"y":0.135},{"s":"a1013","x":11400,"y":0.15},{"s":"a1013","x":11500,"y":0.163},
{"s":"b211","x":10500,"y":0.022},{"s":"b211","x":10520,"y":0.023},{"s":"b211","x":10540,"y":0.021},{"s":"b211","x":10560,"y":0.02},{"s":"b211","x":10580,"y":0.019},{"s":"b211","x":10600,"y":0.025},{"s":"b211","x":10620,"y":0.029},{"s":"b211","x":10640,"y":0.025},{"s":"b211","x":10660,"y":0.02},{"s":"b211","x":10680,"y":0.018},{"s":"b211","x":10700,"y":0.016},{"s":"b211","x":10720,"y":0.019},{"s":"b211","x":10740,"y":0.021},{"s":"b211","x":10760,"y":0.02},{"s":"b211","x":10780,"y":0.021},{"s":"b211","x":10800,"y":0.023},{"s":"b211","x":10820,"y":0.022},{"s":"b211","x":10840,"y":0.021},{"s":"b211","x":10860,"y":0.02},{"s":"b211","x":10880,"y":0.019},{"s":"b211","x":10900,"y":0.019},{"s":"b211","x":10920,"y":0.02},{"s":"b211","x":10940,"y":0.019},{"s":"b211","x":10960,"y":0.02},{"s":"b211","x":10970,"y":0.025},{"s":"b211","x":10980,"y":0.035},{"s":"b211","x":10990,"y":0.045},
{"s":"b110","x":10500,"y":0.0055},{"s":"b110","x":10520,"y":0.0058},{"s":"b110","x":10540,"y":0.0054},{"s":"b110","x":10560,"y":0.006},{"s":"b110","x":10580,"y":0.0068},{"s":"b110","x":10600,"y":0.0074},{"s":"b110","x":10620,"y":0.007},{"s":"b110","x":10640,"y":0.0066},{"s":"b110","x":10660,"y":0.0063},{"s":"b110","x":10680,"y":0.0065},{"s":"b110","x":10700,"y":0.0068},{"s":"b110","x":10720,"y":0.0064},{"s":"b110","x":10740,"y":0.0062},{"s":"b110","x":10760,"y":0.006},{"s":"b110","x":10780,"y":0.0058},{"s":"b110","x":10800,"y":0.0055},{"s":"b110","x":10820,"y":0.005},{"s":"b110","x":10840,"y":0.0048},{"s":"b110","x":10860,"y":0.0045},{"s":"b110","x":10880,"y":0.0042},{"s":"b110","x":10900,"y":0.0039},{"s":"b110","x":10920,"y":0.004},{"s":"b110","x":10940,"y":0.0042},{"s":"b110","x":10960,"y":0.0045},{"s":"b110","x":10975,"y":0.0048},{"s":"b110","x":10985,"y":0.006},{"s":"b110","x":10992,"y":0.012},{"s":"b110","x":11000,"y":0.03},{"s":"b110","x":11010,"y":0.055},{"s":"b110","x":11020,"y":0.08},{"s":"b110","x":11035,"y":0.11},{"s":"b110","x":11050,"y":0.14},{"s":"b110","x":11065,"y":0.165},{"s":"b110","x":11080,"y":0.185},{"s":"b110","x":11095,"y":0.18},{"s":"b110","x":11110,"y":0.165},{"s":"b110","x":11130,"y":0.13},{"s":"b110","x":11150,"y":0.1},{"s":"b110","x":11175,"y":0.075},{"s":"b110","x":11200,"y":0.058},{"s":"b110","x":11225,"y":0.048},{"s":"b110","x":11250,"y":0.041},{"s":"b110","x":11275,"y":0.034},{"s":"b110","x":11300,"y":0.028},{"s":"b110","x":11320,"y":0.03},{"s":"b110","x":11340,"y":0.033},{"s":"b110","x":11360,"y":0.032},{"s":"b110","x":11380,"y":0.03},{"s":"b110","x":11400,"y":0.028},{"s":"b110","x":11420,"y":0.027},{"s":"b110","x":11440,"y":0.03},{"s":"b110","x":11460,"y":0.033},{"s":"b110","x":11480,"y":0.034},{"s":"b110","x":11500,"y":0.033},
{"s":"b200","x":10500,"y":0.011},{"s":"b200","x":10530,"y":0.0108},{"s":"b200","x":10560,"y":0.0105},{"s":"b200","x":10600,"y":0.0102},{"s":"b200","x":10650,"y":0.0105},{"s":"b200","x":10700,"y":0.011},{"s":"b200","x":10750,"y":0.0115},{"s":"b200","x":10780,"y":0.011},{"s":"b200","x":10800,"y":0.0105},{"s":"b200","x":10830,"y":0.009},{"s":"b200","x":10860,"y":0.008},{"s":"b200","x":10900,"y":0.0065},{"s":"b200","x":10940,"y":0.0055},{"s":"b200","x":10980,"y":0.0045},{"s":"b200","x":11000,"y":0.0038},{"s":"b200","x":11030,"y":0.003},{"s":"b200","x":11060,"y":0.0027},{"s":"b200","x":11100,"y":0.0025},{"s":"b200","x":11130,"y":0.0021},{"s":"b200","x":11160,"y":0.0019},{"s":"b200","x":11200,"y":0.0018},{"s":"b200","x":11230,"y":0.002},{"s":"b200","x":11250,"y":0.0022},{"s":"b200","x":11280,"y":0.0019},{"s":"b200","x":11300,"y":0.0019},{"s":"b200","x":11330,"y":0.0015},{"s":"b200","x":11360,"y":0.0012},{"s":"b200","x":11390,"y":0.0011},{"s":"b200","x":11420,"y":0.0009},{"s":"b200","x":11450,"y":0.0011},{"s":"b200","x":11480,"y":0.0012},{"s":"b200","x":11500,"y":0.0011}],
"cD":[{"x":10505,"y":0.012},{"x":10515,"y":0.03},{"x":10525,"y":0.006},{"x":10535,"y":0.02},{"x":10545,"y":0.009},{"x":10555,"y":0.035},{"x":10565,"y":0.004},{"x":10575,"y":0.015},{"x":10585,"y":0.025},{"x":10595,"y":0.007},{"x":10605,"y":0.04},{"x":10615,"y":0.011},{"x":10625,"y":0.018},{"x":10635,"y":0.0035},{"x":10645,"y":0.03},{"x":10655,"y":0.008},{"x":10665,"y":0.022},{"x":10675,"y":0.013},{"x":10685,"y":0.005},{"x":10695,"y":0.028},{"x":10705,"y":0.01},{"x":10715,"y":0.017},{"x":10725,"y":0.0045},{"x":10735,"y":0.024},{"x":10745,"y":0.007},{"x":10755,"y":0.035},{"x":10765,"y":0.012},{"x":10775,"y":0.019},{"x":10785,"y":0.003},{"x":10795,"y":0.026},{"x":10805,"y":0.009},{"x":10815,"y":0.015},{"x":10825,"y":0.0055},{"x":10835,"y":0.03},{"x":10845,"y":0.011},{"x":10855,"y":0.02},{"x":10865,"y":0.004},{"x":10875,"y":0.025},{"x":10885,"y":0.008},{"x":10895,"y":0.014},{"x":10905,"y":0.0035},{"x":10915,"y":0.022},{"x":10925,"y":0.006},{"x":10935,"y":0.018},{"x":10945,"y":0.0025},{"x":10955,"y":0.027},{"x":10965,"y":0.009},{"x":10975,"y":0.015},
{"x":10995,"y":0.02},{"x":11005,"y":0.06},{"x":11015,"y":0.003},{"x":11025,"y":0.1},{"x":11035,"y":0.01},{"x":11045,"y":0.15},{"x":11055,"y":0.004},{"x":11065,"y":0.17},{"x":11075,"y":0.02},{"x":11085,"y":0.2},{"x":11095,"y":0.006},{"x":11105,"y":0.16},{"x":11115,"y":0.012},{"x":11125,"y":0.12},{"x":11135,"y":0.003},{"x":11145,"y":0.09},{"x":11155,"y":0.008},{"x":11165,"y":0.075},{"x":11175,"y":0.015},{"x":11185,"y":0.06},{"x":11195,"y":0.004},{"x":11205,"y":0.05},{"x":11215,"y":0.01},{"x":11225,"y":0.045},{"x":11235,"y":0.0025},{"x":11245,"y":0.04},{"x":11255,"y":0.007},{"x":11265,"y":0.035},{"x":11275,"y":0.018},{"x":11285,"y":0.03},{"x":11295,"y":0.005},{"x":11305,"y":0.025},{"x":11315,"y":0.011},{"x":11325,"y":0.035},{"x":11335,"y":0.003},{"x":11345,"y":0.028},{"x":11355,"y":0.008},{"x":11365,"y":0.03},{"x":11375,"y":0.015},{"x":11385,"y":0.025},{"x":11395,"y":0.004},{"x":11405,"y":0.022},{"x":11415,"y":0.009},{"x":11425,"y":0.032},{"x":11435,"y":0.0035},{"x":11445,"y":0.027},{"x":11455,"y":0.012},{"x":11465,"y":0.035},{"x":11475,"y":0.006},{"x":11485,"y":0.03},{"x":11495,"y":0.02},{"x":11050,"y":0.0015},{"x":11110,"y":0.002},{"x":11170,"y":0.0012},{"x":11230,"y":0.0018},{"x":11290,"y":0.0014},{"x":11350,"y":0.002},{"x":11410,"y":0.0013},{"x":11470,"y":0.0017}],
"dP":[{"s":"HT2p","x":-45,"y":0.003},{"s":"HT2p","x":-35,"y":0.002},{"s":"HT2p","x":-25,"y":0.004},{"s":"HT2p","x":-15,"y":0.003},{"s":"HT2p","x":-5,"y":0.005},{"s":"HT2p","x":3,"y":0.008},{"s":"HT2p","x":8,"y":0.015},{"s":"HT2p","x":12,"y":0.025},{"s":"HT2p","x":18,"y":0.035},{"s":"HT2p","x":22,"y":0.045},{"s":"HT2p","x":28,"y":0.04},{"s":"HT2p","x":33,"y":0.042},{"s":"HT2p","x":38,"y":0.05},{"s":"HT2p","x":44,"y":0.06},{"s":"HT2p","x":48,"y":0.075},{"s":"HT2p","x":53,"y":0.09},{"s":"HT2p","x":58,"y":0.11},{"s":"HT2p","x":62,"y":0.125},{"s":"HT2p","x":66,"y":0.14},{"s":"HT2p","x":70,"y":0.16},{"s":"HT2p","x":74,"y":0.17},{"s":"HT2p","x":78,"y":0.185},{"s":"HT2p","x":82,"y":0.19},{"s":"HT2p","x":86,"y":0.18},{"s":"HT2p","x":90,"y":0.195},{"s":"HT2p","x":94,"y":0.185},{"s":"HT2p","x":98,"y":0.19},{"s":"HT2p","x":102,"y":0.185},{"s":"HT2p","x":106,"y":0.175},{"s":"HT2p","x":110,"y":0.18},{"s":"HT2p","x":114,"y":0.165},{"s":"HT2p","x":118,"y":0.16},{"s":"HT2p","x":122,"y":0.15},{"s":"HT2p","x":126,"y":0.155},{"s":"HT2p","x":130,"y":0.14},{"s":"HT2p","x":135,"y":0.135},{"s":"HT2p","x":140,"y":0.125},{"s":"HT2p","x":145,"y":0.13},{"s":"HT2p","x":150,"y":0.115},{"s":"HT2p","x":155,"y":0.11},{"s":"HT2p","x":160,"y":0.105},{"s":"HT2p","x":165,"y":0.1},{"s":"HT2p","x":170,"y":0.095},{"s":"HT2p","x":175,"y":0.09},{"s":"HT2p","x":180,"y":0.085},{"s":"HT2p","x":185,"y":0.09},{"s":"HT2p","x":190,"y":0.08},{"s":"HT2p","x":195,"y":0.075},{"s":"HT2p","x":200,"y":0.07},{"s":"HT2p","x":205,"y":0.072},{"s":"HT2p","x":210,"y":0.065},{"s":"HT2p","x":215,"y":0.06},{"s":"HT2p","x":220,"y":0.065},{"s":"HT2p","x":225,"y":0.07},{"s":"HT2p","x":230,"y":0.055},{"s":"HT2p","x":238,"y":0.05},{"s":"HT2p","x":245,"y":0.045},{"s":"HT2p","x":252,"y":0.048},{"s":"HT2p","x":260,"y":0.04},{"s":"HT2p","x":268,"y":0.043},{"s":"HT2p","x":275,"y":0.038},{"s":"HT2p","x":282,"y":0.035},{"s":"HT2p","x":290,"y":0.04},{"s":"HT2p","x":298,"y":0.03},{"s":"HT2p","x":305,"y":0.032},{"s":"HT2p","x":312,"y":0.028},{"s":"HT2p","x":320,"y":0.035},{"s":"HT2p","x":328,"y":0.04},{"s":"HT2p","x":335,"y":0.042},{"s":"HT2p","x":342,"y":0.038},{"s":"HT2p","x":350,"y":0.04},{"s":"HT2p","x":358,"y":0.045},{"s":"HT2p","x":365,"y":0.035},{"s":"HT2p","x":372,"y":0.04},{"s":"HT2p","x":380,"y":0.03},{"s":"HT2p","x":388,"y":0.035},{"s":"HT2p","x":395,"y":0.025},
{"s":"HT1p","x":-45,"y":0.002},{"s":"HT1p","x":-30,"y":0.001},{"s":"HT1p","x":-15,"y":0.003},{"s":"HT1p","x":0,"y":0.004},{"s":"HT1p","x":8,"y":0.01},{"s":"HT1p","x":15,"y":0.015},{"s":"HT1p","x":22,"y":0.02},{"s":"HT1p","x":28,"y":0.025},{"s":"HT1p","x":34,"y":0.03},{"s":"HT1p","x":40,"y":0.04},{"s":"HT1p","x":46,"y":0.045},{"s":"HT1p","x":52,"y":0.05},{"s":"HT1p","x":58,"y":0.055},{"s":"HT1p","x":64,"y":0.05},{"s":"HT1p","x":70,"y":0.065},{"s":"HT1p","x":76,"y":0.07},{"s":"HT1p","x":82,"y":0.06},{"s":"HT1p","x":88,"y":0.068},{"s":"HT1p","x":94,"y":0.065},{"s":"HT1p","x":100,"y":0.06},{"s":"HT1p","x":106,"y":0.058},{"s":"HT1p","x":112,"y":0.062},{"s":"HT1p","x":118,"y":0.055},{"s":"HT1p","x":124,"y":0.058},{"s":"HT1p","x":130,"y":0.05},{"s":"HT1p","x":136,"y":0.052},{"s":"HT1p","x":142,"y":0.047},{"s":"HT1p","x":148,"y":0.045},{"s":"HT1p","x":155,"y":0.04},{"s":"HT1p","x":162,"y":0.042},{"s":"HT1p","x":170,"y":0.036},{"s":"HT1p","x":178,"y":0.033},{"s":"HT1p","x":186,"y":0.03},{"s":"HT1p","x":194,"y":0.032},{"s":"HT1p","x":202,"y":0.028},{"s":"HT1p","x":212,"y":0.025},{"s":"HT1p","x":222,"y":0.026},{"s":"HT1p","x":232,"y":0.022},{"s":"HT1p","x":242,"y":0.02},{"s":"HT1p","x":252,"y":0.018},{"s":"HT1p","x":262,"y":0.02},{"s":"HT1p","x":272,"y":0.015},{"s":"HT1p","x":282,"y":0.016},{"s":"HT1p","x":292,"y":0.012},{"s":"HT1p","x":302,"y":0.014},{"s":"HT1p","x":312,"y":0.01},{"s":"HT1p","x":322,"y":0.012},{"s":"HT1p","x":332,"y":0.015},{"s":"HT1p","x":342,"y":0.013},{"s":"HT1p","x":352,"y":0.016},{"s":"HT1p","x":362,"y":0.02},{"s":"HT1p","x":366,"y":0.068},{"s":"HT1p","x":372,"y":0.07},{"s":"HT1p","x":378,"y":0.025},{"s":"HT1p","x":385,"y":0.045},{"s":"HT1p","x":392,"y":0.015},{"s":"HT1p","x":398,"y":0.02},
{"s":"Meltp","x":-45,"y":0.003},{"s":"Meltp","x":-35,"y":0.002},{"s":"Meltp","x":-25,"y":0.005},{"s":"Meltp","x":-15,"y":0.004},{"s":"Meltp","x":-5,"y":0.006},{"s":"Meltp","x":5,"y":0.008},{"s":"Meltp","x":12,"y":0.01},{"s":"Meltp","x":20,"y":0.012},{"s":"Meltp","x":28,"y":0.015},{"s":"Meltp","x":35,"y":0.02},{"s":"Meltp","x":42,"y":0.022},{"s":"Meltp","x":50,"y":0.026},{"s":"Meltp","x":56,"y":0.03},{"s":"Meltp","x":62,"y":0.032},{"s":"Meltp","x":68,"y":0.035},{"s":"Meltp","x":74,"y":0.033},{"s":"Meltp","x":80,"y":0.038},{"s":"Meltp","x":86,"y":0.036},{"s":"Meltp","x":92,"y":0.04},{"s":"Meltp","x":98,"y":0.043},{"s":"Meltp","x":104,"y":0.038},{"s":"Meltp","x":110,"y":0.035},{"s":"Meltp","x":116,"y":0.033},{"s":"Meltp","x":122,"y":0.03},{"s":"Meltp","x":128,"y":0.032},{"s":"Meltp","x":135,"y":0.027},{"s":"Meltp","x":142,"y":0.025},{"s":"Meltp","x":150,"y":0.022},{"s":"Meltp","x":158,"y":0.02},{"s":"Meltp","x":166,"y":0.018},{"s":"Meltp","x":175,"y":0.016},{"s":"Meltp","x":184,"y":0.014},{"s":"Meltp","x":193,"y":0.012},{"s":"Meltp","x":202,"y":0.011},{"s":"Meltp","x":212,"y":0.009},{"s":"Meltp","x":222,"y":0.01},{"s":"Meltp","x":232,"y":0.008},{"s":"Meltp","x":244,"y":0.007},{"s":"Meltp","x":256,"y":0.006},{"s":"Meltp","x":268,"y":0.007},{"s":"Meltp","x":280,"y":0.005},{"s":"Meltp","x":292,"y":0.006},{"s":"Meltp","x":305,"y":0.004},{"s":"Meltp","x":318,"y":0.005},{"s":"Meltp","x":330,"y":0.004},{"s":"Meltp","x":345,"y":0.003},{"s":"Meltp","x":360,"y":0.005},{"s":"Meltp","x":375,"y":0.004},{"s":"Meltp","x":390,"y":0.003}],
"dL":[{"s":"HT2","x":-50,"y":0.002},{"s":"HT2","x":0,"y":0.003},{"s":"HT2","x":10,"y":0.02},{"s":"HT2","x":20,"y":0.035},{"s":"HT2","x":30,"y":0.04},{"s":"HT2","x":40,"y":0.06},{"s":"HT2","x":50,"y":0.09},{"s":"HT2","x":60,"y":0.13},{"s":"HT2","x":70,"y":0.16},{"s":"HT2","x":80,"y":0.178},{"s":"HT2","x":90,"y":0.18},{"s":"HT2","x":100,"y":0.18},{"s":"HT2","x":110,"y":0.17},{"s":"HT2","x":120,"y":0.155},{"s":"HT2","x":140,"y":0.13},{"s":"HT2","x":160,"y":0.105},{"s":"HT2","x":180,"y":0.085},{"s":"HT2","x":200,"y":0.07},{"s":"HT2","x":220,"y":0.058},{"s":"HT2","x":250,"y":0.045},{"s":"HT2","x":280,"y":0.035},{"s":"HT2","x":300,"y":0.03},{"s":"HT2","x":320,"y":0.032},{"s":"HT2","x":340,"y":0.04},{"s":"HT2","x":360,"y":0.04},{"s":"HT2","x":380,"y":0.035},{"s":"HT2","x":400,"y":0.025},
{"s":"HT1","x":-50,"y":0.001},{"s":"HT1","x":0,"y":0.002},{"s":"HT1","x":10,"y":0.01},{"s":"HT1","x":20,"y":0.02},{"s":"HT1","x":40,"y":0.035},{"s":"HT1","x":60,"y":0.05},{"s":"HT1","x":80,"y":0.06},{"s":"HT1","x":100,"y":0.06},{"s":"HT1","x":120,"y":0.057},{"s":"HT1","x":140,"y":0.05},{"s":"HT1","x":160,"y":0.043},{"s":"HT1","x":180,"y":0.035},{"s":"HT1","x":200,"y":0.03},{"s":"HT1","x":240,"y":0.022},{"s":"HT1","x":280,"y":0.015},{"s":"HT1","x":320,"y":0.012},{"s":"HT1","x":350,"y":0.015},{"s":"HT1","x":370,"y":0.02},{"s":"HT1","x":400,"y":0.015},
{"s":"Melting","x":-50,"y":0.001},{"s":"Melting","x":0,"y":0.003},{"s":"Melting","x":20,"y":0.008},{"s":"Melting","x":40,"y":0.015},{"s":"Melting","x":60,"y":0.028},{"s":"Melting","x":80,"y":0.035},{"s":"Melting","x":100,"y":0.037},{"s":"Melting","x":120,"y":0.033},{"s":"Melting","x":150,"y":0.025},{"s":"Melting","x":180,"y":0.018},{"s":"Melting","x":200,"y":0.013},{"s":"Melting","x":240,"y":0.008},{"s":"Melting","x":280,"y":0.006},{"s":"Melting","x":320,"y":0.005},{"s":"Melting","x":360,"y":0.004},{"s":"Melting","x":400,"y":0.004}]
}
}
